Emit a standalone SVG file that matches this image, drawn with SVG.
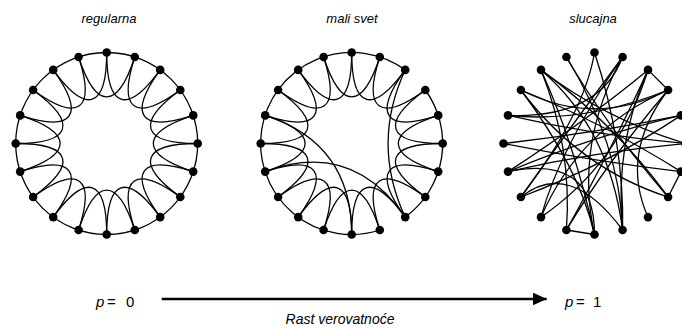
<svg xmlns="http://www.w3.org/2000/svg" width="682" height="328" viewBox="0 0 682 328">
<style>
.e{fill:none;stroke:#000;stroke-width:1.3}
.n{fill:#000}
.lbl{font-family:"Liberation Sans",Arial,sans-serif;font-style:italic;font-size:13px;fill:#000;text-anchor:middle}
.p{font-family:"Liberation Sans",Arial,sans-serif;font-size:15px;fill:#000}
</style>
<defs>
<marker id="ah" markerWidth="14" markerHeight="13" refX="14" refY="6.5" orient="auto" markerUnits="userSpaceOnUse"><path d="M0,0 L14,6.5 L0,13 Z" fill="#000"/></marker>
</defs>
<rect width="682" height="328" fill="#fff"/>

<!-- labels -->
<text class="lbl" x="109" y="23">regularna</text>
<text class="lbl" x="352" y="23">mali svet</text>
<text class="lbl" x="593" y="23">slucajna</text>

<!-- regular ring -->
<g id="regular" transform="translate(106.7,143.5)">
<g id="regular-edges" class="e">
<circle cx="0" cy="0" r="91"/>
<path d="M0,-91 C0,-35 20.6,-28.3 53.5,-73.6"/>
<path d="M28.1,-86.5 C10.8,-33.3 28.3,-20.6 73.6,-53.5"/>
<path d="M53.5,-73.6 C20.6,-28.3 33.3,-10.8 86.5,-28.1"/>
<path d="M73.6,-53.5 C28.3,-20.6 35,0 91,0"/>
<path d="M86.5,-28.1 C33.3,-10.8 33.3,10.8 86.5,28.1"/>
<path d="M91,0 C35,0 28.3,20.6 73.6,53.5"/>
<path d="M86.5,28.1 C33.3,10.8 20.6,28.3 53.5,73.6"/>
<path d="M73.6,53.5 C28.3,20.6 10.8,33.3 28.1,86.5"/>
<path d="M53.5,73.6 C20.6,28.3 0,35 0,91"/>
<path d="M28.1,86.5 C10.8,33.3 -10.8,33.3 -28.1,86.5"/>
<path d="M0,91 C0,35 -20.6,28.3 -53.5,73.6"/>
<path d="M-28.1,86.5 C-10.8,33.3 -28.3,20.6 -73.6,53.5"/>
<path d="M-53.5,73.6 C-20.6,28.3 -33.3,10.8 -86.5,28.1"/>
<path d="M-73.6,53.5 C-28.3,20.6 -35,0 -91,0"/>
<path d="M-86.5,28.1 C-33.3,10.8 -33.3,-10.8 -86.5,-28.1"/>
<path d="M-91,0 C-35,0 -28.3,-20.6 -73.6,-53.5"/>
<path d="M-86.5,-28.1 C-33.3,-10.8 -20.6,-28.3 -53.5,-73.6"/>
<path d="M-73.6,-53.5 C-28.3,-20.6 -10.8,-33.3 -28.1,-86.5"/>
<path d="M-53.5,-73.6 C-20.6,-28.3 0,-35 0,-91"/>
<path d="M-28.1,-86.5 C-10.8,-33.3 10.8,-33.3 28.1,-86.5"/>
</g>
<g id="regular-nodes" class="n">
<circle id="reg-n0" cx="0" cy="-91" r="4.3"/>
<circle id="reg-n1" cx="28.1" cy="-86.5" r="4.3"/>
<circle id="reg-n2" cx="53.5" cy="-73.6" r="4.3"/>
<circle id="reg-n3" cx="73.6" cy="-53.5" r="4.3"/>
<circle id="reg-n4" cx="86.5" cy="-28.1" r="4.3"/>
<circle id="reg-n5" cx="91" cy="0" r="4.3"/>
<circle id="reg-n6" cx="86.5" cy="28.1" r="4.3"/>
<circle id="reg-n7" cx="73.6" cy="53.5" r="4.3"/>
<circle id="reg-n8" cx="53.5" cy="73.6" r="4.3"/>
<circle id="reg-n9" cx="28.1" cy="86.5" r="4.3"/>
<circle id="reg-n10" cx="0" cy="91" r="4.3"/>
<circle id="reg-n11" cx="-28.1" cy="86.5" r="4.3"/>
<circle id="reg-n12" cx="-53.5" cy="73.6" r="4.3"/>
<circle id="reg-n13" cx="-73.6" cy="53.5" r="4.3"/>
<circle id="reg-n14" cx="-86.5" cy="28.1" r="4.3"/>
<circle id="reg-n15" cx="-91" cy="0" r="4.3"/>
<circle id="reg-n16" cx="-86.5" cy="-28.1" r="4.3"/>
<circle id="reg-n17" cx="-73.6" cy="-53.5" r="4.3"/>
<circle id="reg-n18" cx="-53.5" cy="-73.6" r="4.3"/>
<circle id="reg-n19" cx="-28.1" cy="-86.5" r="4.3"/>
</g>
</g>

<!-- small world ring -->
<g id="smallworld" transform="translate(351.7,143.5)">
<g id="smallworld-edges" class="e">
<path d="M73.6,-53.5 A91,91 0 0 1 53.5,73.6"/>
<path d="M28.1,86.5 A91,91 0 1 1 53.5,-73.6"/>
<path d="M0,-91 C0,-35 20.6,-28.3 53.5,-73.6"/>
<path d="M28.1,-86.5 C10.8,-33.3 28.3,-20.6 73.6,-53.5"/>
<path d="M53.5,-73.6 C20.6,-28.3 33.3,-10.8 86.5,-28.1"/>
<path d="M73.6,-53.5 C28.3,-20.6 35,0 91,0"/>
<path d="M86.5,-28.1 C33.3,-10.8 33.3,10.8 86.5,28.1"/>
<path d="M91,0 C35,0 28.3,20.6 73.6,53.5"/>
<path d="M86.5,28.1 C33.3,10.8 20.6,28.3 53.5,73.6"/>
<path d="M73.6,53.5 C28.3,20.6 10.8,33.3 28.1,86.5"/>
<path d="M53.5,73.6 C20.6,28.3 0,35 0,91"/>
<path d="M28.1,86.5 C10.8,33.3 -10.8,33.3 -28.1,86.5"/>
<path d="M0,91 C0,35 -20.6,28.3 -53.5,73.6"/>
<path d="M-28.1,86.5 C-10.8,33.3 -28.3,20.6 -73.6,53.5"/>
<path d="M-53.5,73.6 C-20.6,28.3 -33.3,10.8 -86.5,28.1"/>
<path d="M-73.6,53.5 C-28.3,20.6 -35,0 -91,0"/>
<path d="M-86.5,28.1 C-33.3,10.8 -33.3,-10.8 -86.5,-28.1"/>
<path d="M-91,0 C-35,0 -28.3,-20.6 -73.6,-53.5"/>
<path d="M-86.5,-28.1 C-33.3,-10.8 -20.6,-28.3 -53.5,-73.6"/>
<path d="M-73.6,-53.5 C-28.3,-20.6 -10.8,-33.3 -28.1,-86.5"/>
<path d="M-53.5,-73.6 C-20.6,-28.3 0,-35 0,-91"/>
<path d="M-28.1,-86.5 C-10.8,-33.3 10.8,-33.3 28.1,-86.5"/>
<path d="M53.5,-73.6 Q19.3,0 53.5,73.6"/>
<path d="M-86.5,-28.1 Q0,0 0,91"/>
<path d="M-86.5,28.1 Q0,-4 53.5,73.6"/>
</g>
<g id="smallworld-nodes" class="n">
<circle id="sw-n0" cx="0" cy="-91" r="4.3"/>
<circle id="sw-n1" cx="28.1" cy="-86.5" r="4.3"/>
<circle id="sw-n2" cx="53.5" cy="-73.6" r="4.3"/>
<circle id="sw-n3" cx="73.6" cy="-53.5" r="4.3"/>
<circle id="sw-n4" cx="86.5" cy="-28.1" r="4.3"/>
<circle id="sw-n5" cx="91" cy="0" r="4.3"/>
<circle id="sw-n6" cx="86.5" cy="28.1" r="4.3"/>
<circle id="sw-n7" cx="73.6" cy="53.5" r="4.3"/>
<circle id="sw-n8" cx="53.5" cy="73.6" r="4.3"/>
<circle id="sw-n9" cx="28.1" cy="86.5" r="4.3"/>
<circle id="sw-n10" cx="0" cy="91" r="4.3"/>
<circle id="sw-n11" cx="-28.1" cy="86.5" r="4.3"/>
<circle id="sw-n12" cx="-53.5" cy="73.6" r="4.3"/>
<circle id="sw-n13" cx="-73.6" cy="53.5" r="4.3"/>
<circle id="sw-n14" cx="-86.5" cy="28.1" r="4.3"/>
<circle id="sw-n15" cx="-91" cy="0" r="4.3"/>
<circle id="sw-n16" cx="-86.5" cy="-28.1" r="4.3"/>
<circle id="sw-n17" cx="-73.6" cy="-53.5" r="4.3"/>
<circle id="sw-n18" cx="-53.5" cy="-73.6" r="4.3"/>
<circle id="sw-n19" cx="-28.1" cy="-86.5" r="4.3"/>
</g>
</g>

<!-- random ring -->
<g id="random" transform="translate(594.5,143.5)">
<g id="random-edges" class="e">
<path d="M53.5,-73.6 L73.6,-53.5"/>
<path d="M0,91 L-28.1,86.5"/>
<path d="M86.5,28.1 L73.6,53.5"/>
<path d="M-86.5,-28.1 Q-10,-20 73.6,-53.5"/>
<path d="M-73.6,-53.5 Q0,-16 73.6,-53.5"/>
<path d="M-86.5,-28.1 Q5,-25 28.1,-86.5"/>
<path d="M-91,0 Q-2,-10 86.5,-28.1"/>
<path d="M-86.5,-28.1 Q0,-8 91,0"/>
<path d="M-86.5,28.1 Q0,-8 86.5,-28.1"/>
<path d="M-86.5,28.1 Q0,10 0,91"/>
<path d="M-73.6,53.5 Q-25,-15 28.1,-86.5"/>
<path d="M-53.5,73.6 Q25,20 53.5,-73.6"/>
<path d="M-53.5,73.6 Q-35,5 28.1,-86.5"/>
<path d="M-28.1,86.5 Q-22,5 -53.5,-73.6"/>
<path d="M0,91 Q-20,0 28.1,-86.5"/>
<path d="M28.1,86.5 Q15,-15 -53.5,-73.6"/>
<path d="M28.1,86.5 Q25,0 -28.1,-86.5"/>
<path d="M28.1,86.5 Q20,0 53.5,-73.6"/>
<path d="M53.5,73.6 Q25,10 73.6,-53.5"/>
<path d="M73.6,53.5 Q20,-20 -53.5,-73.6"/>
<path d="M73.6,53.5 Q-15,25 -73.6,-53.5"/>
<path d="M86.5,28.1 Q10,-20 -73.6,-53.5"/>
<path d="M91,0 Q10,-25 -53.5,-73.6"/>
<path d="M0,-91 Q-10,-30 -73.6,53.5"/>
<path d="M0,-91 Q30,0 28.1,86.5"/>
<path d="M53.5,-73.6 Q-5,-25 -86.5,28.1"/>
<path d="M86.5,-28.1 Q15,20 -73.6,53.5"/>
<path d="M73.6,-53.5 Q15,15 -28.1,86.5"/>
<path d="M91,0 Q0,8 -86.5,28.1"/>
<path d="M-91,0 Q0,18 86.5,28.1"/>
<path d="M-73.6,-53.5 Q-15,25 0,91"/>
<path d="M73.6,-53.5 Q-15,-15 -53.5,73.6"/>
<path d="M-28.1,-86.5 Q10,-20 73.6,53.5"/>
<path d="M-73.6,53.5 Q-25,15 28.1,86.5"/>
<path d="M53.5,-73.6 Q20,0 -28.1,86.5"/>
<path d="M-53.5,-73.6 Q-20,0 0,91"/>
</g>
<g id="random-nodes" class="n">
<circle id="rnd-n0" cx="0" cy="-91" r="4.3"/>
<circle id="rnd-n1" cx="28.1" cy="-86.5" r="4.3"/>
<circle id="rnd-n2" cx="53.5" cy="-73.6" r="4.3"/>
<circle id="rnd-n3" cx="73.6" cy="-53.5" r="4.3"/>
<circle id="rnd-n4" cx="86.5" cy="-28.1" r="4.3"/>
<circle id="rnd-n5" cx="91" cy="0" r="4.3"/>
<circle id="rnd-n6" cx="86.5" cy="28.1" r="4.3"/>
<circle id="rnd-n7" cx="73.6" cy="53.5" r="4.3"/>
<circle id="rnd-n8" cx="53.5" cy="73.6" r="4.3"/>
<circle id="rnd-n9" cx="28.1" cy="86.5" r="4.3"/>
<circle id="rnd-n10" cx="0" cy="91" r="4.3"/>
<circle id="rnd-n11" cx="-28.1" cy="86.5" r="4.3"/>
<circle id="rnd-n12" cx="-53.5" cy="73.6" r="4.3"/>
<circle id="rnd-n13" cx="-73.6" cy="53.5" r="4.3"/>
<circle id="rnd-n14" cx="-86.5" cy="28.1" r="4.3"/>
<circle id="rnd-n15" cx="-91" cy="0" r="4.3"/>
<circle id="rnd-n16" cx="-86.5" cy="-28.1" r="4.3"/>
<circle id="rnd-n17" cx="-73.6" cy="-53.5" r="4.3"/>
<circle id="rnd-n18" cx="-53.5" cy="-73.6" r="4.3"/>
<circle id="rnd-n19" cx="-28.1" cy="-86.5" r="4.3"/>
</g>
</g>

<!-- probability axis -->
<g id="axis">
<line x1="161.7" y1="299" x2="546.7" y2="299" stroke="#000" stroke-width="2.4" marker-end="url(#ah)"/>
</g>
<text class="p" y="306.5"><tspan x="96" font-style="italic">p</tspan><tspan x="107">=</tspan><tspan x="126">0</tspan></text>
<text class="p" y="306.5"><tspan x="565" font-style="italic">p</tspan><tspan x="576">=</tspan><tspan x="593">1</tspan></text>
<text class="lbl" x="340" y="324" style="font-size:14px">Rast verovatnoće</text>
</svg>
